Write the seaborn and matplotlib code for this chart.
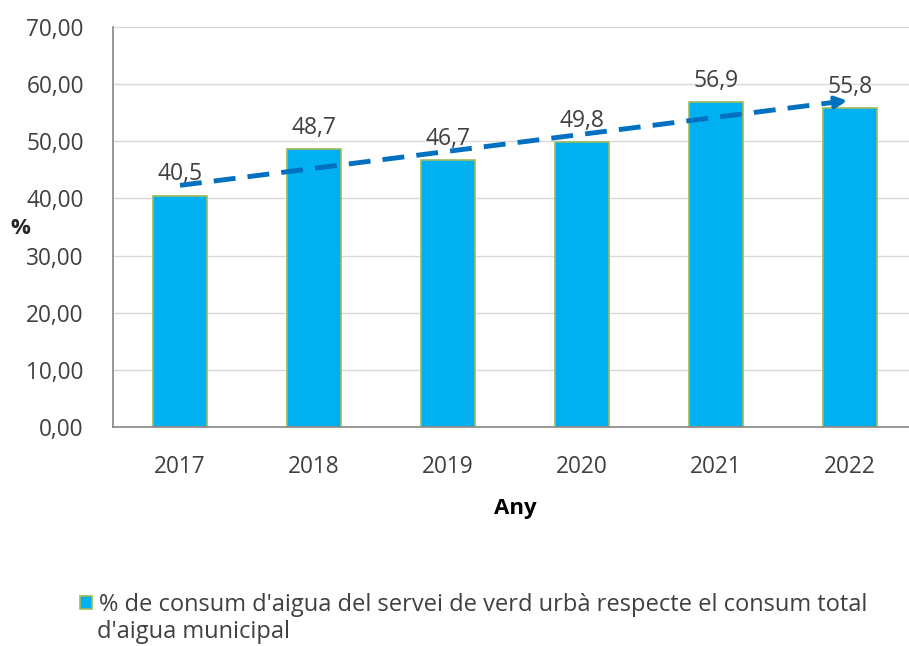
import seaborn as sns
import matplotlib.pyplot as plt
import matplotlib.ticker as mticker
import numpy as np
import pandas as pd

anys = ['2017', '2018', '2019', '2020', '2021', '2022']
percentatge = [40.5, 48.7, 46.7, 49.8, 56.9, 55.8]
serie = "% de consum d'aigua del servei de verd urbà respecte el consum total"
serie_2 = "d'aigua municipal"

df = pd.DataFrame({'Any': anys, 'pct': percentatge, 'serie': serie})

sns.set_style('white')
plt.rcParams['font.family'] = ['Open Sans', 'DejaVu Sans']

fig = plt.figure(figsize=(9.09, 6.46), dpi=100)
ax = fig.add_axes([113 / 909, 1 - 427 / 646, 804 / 909, 400 / 646])

sns.barplot(data=df, x='Any', y='pct', hue='serie', palette=['#00B0F0'], saturation=1,
            width=0.41, edgecolor='#9BBB59', linewidth=1.2, ax=ax, legend=True)

# etiquetes de dades
for i, v in enumerate(percentatge):
    ax.text(i, v + 1.6, f'{v:.1f}'.replace('.', ','), ha='center', va='bottom',
            fontsize=16.5, color='#404040')

# línia de tendència
x = np.arange(len(percentatge))
m, b = np.polyfit(x, percentatge, 1)
x_end = len(x) - 1
ax.plot([0, x_end - 0.12], [b, b + m * (x_end - 0.12)], color='#0070C0', lw=3.5,
        dashes=(4.5, 2.5), solid_capstyle='butt', zorder=5)
ax.annotate('', xy=(x_end, b + m * x_end), xytext=(x_end - 0.15, b + m * (x_end - 0.15)),
            arrowprops=dict(arrowstyle='-|>,head_length=0.7,head_width=0.35',
                            color='#0070C0', lw=3), zorder=6)

ax.set_ylim(0, 70)
ax.set_xlim(-0.5, 5.5)
ax.yaxis.set_major_locator(mticker.MultipleLocator(10))
ax.yaxis.set_major_formatter(mticker.FuncFormatter(lambda v, p: f'{v:.2f}'.replace('.', ',')))
ax.grid(axis='y', color='#D9D9D9', lw=1)
ax.set_axisbelow(True)

for s in ['top', 'right']:
    ax.spines[s].set_visible(False)
for s in ['left', 'bottom']:
    ax.spines[s].set_color('#868686')
    ax.spines[s].set_linewidth(1.2)

ax.set_xticks(np.arange(-0.5, 6, 1), minor=False)
ax.set_xticklabels([])
ax.set_xticks(x, minor=True)
ax.set_xticklabels(anys, minor=True)
ax.tick_params(axis='x', which='major', length=9, width=1.2, color='#868686', direction='out')
ax.tick_params(axis='x', which='minor', length=0, pad=20, labelsize=16.3, labelcolor='#404040')
ax.tick_params(axis='y', length=9, width=1.2, color='#868686', direction='out',
               labelsize=16.3, labelcolor='#404040', pad=12)

ax.set_xlabel('Any', fontsize=16, fontweight='bold', color='#000000', labelpad=14)
ax.set_ylabel('')
fig.text(20 / 909, 1 - 228 / 646, '%', fontsize=16, fontweight='bold', ha='center', va='center')

h, l = ax.get_legend_handles_labels()
ax.get_legend().remove()
fig.legend(h, l, loc='center left', bbox_to_anchor=(80 / 909, 1 - 605 / 646), frameon=False,
           fontsize=17, handlelength=0.5, handleheight=0.5, handletextpad=0.3,
           labelcolor='#404040', borderaxespad=0, borderpad=0)
fig.text(97 / 909, 1 - 632 / 646, serie_2, fontsize=17, color='#404040', ha='left', va='center')

fig.savefig('out.png', dpi=100)
